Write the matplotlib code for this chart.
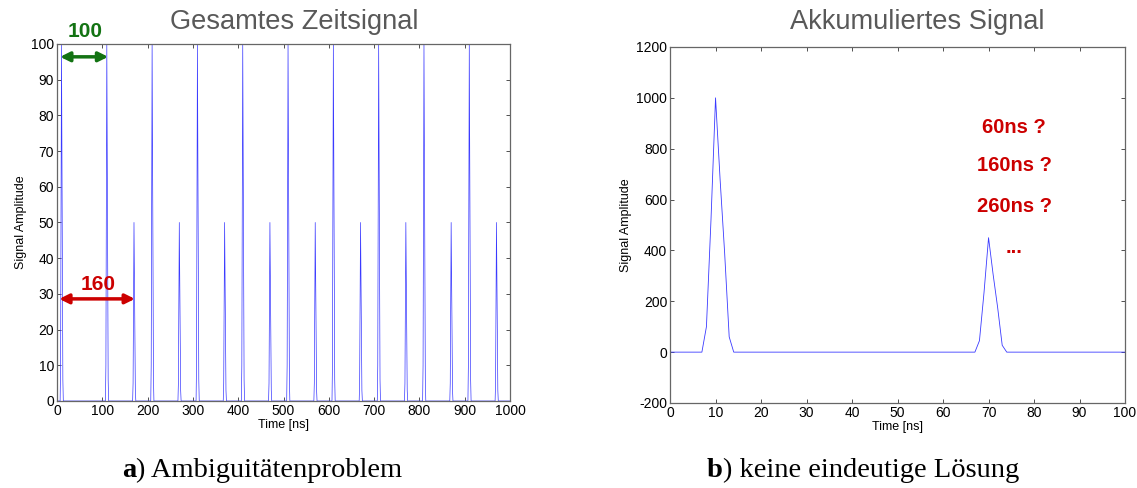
import numpy as np
import matplotlib
matplotlib.use('Agg')
import matplotlib.pyplot as plt

plt.rcParams['font.family'] = ['Liberation Sans', 'DejaVu Sans']
plt.rcParams['axes.unicode_minus'] = False

# pulse shape (sampled at 1 ns, offsets -3..+4 around the peak), peak = 1
pulse_offsets = [-3, -2, -1, 0, 1, 2, 3, 4]
pulse_shape = [0.0, 0.10, 0.52, 1.0, 0.68, 0.39, 0.06, 0.0]

# pulses of the full time signal
times_a = [10, 110, 210, 310, 410, 510, 610, 710, 810, 910]
amp_a = 100
times_b = [170, 270, 370, 470, 570, 670, 770, 870, 970]
amp_b = 50

# accumulated signal
acc_t = [0, 7, 8, 9, 10, 11, 12, 13, 14, 67, 68, 69, 70, 71, 72, 73, 74, 100]
acc_v = [0, 0, 100, 520, 1000, 680, 390, 60, 0, 0, 45, 234, 450, 306, 175, 27, 0, 0]

guesses = ['60ns ?', '160ns ?', '260ns ?', '...']
guess_y = [885, 732, 571, 410]

t = np.arange(0, 1001)
sig = np.zeros(len(t))
for tp in times_a:
    for o, s in zip(pulse_offsets, pulse_shape):
        sig[tp + o] += amp_a * s
for tp in times_b:
    for o, s in zip(pulse_offsets, pulse_shape):
        sig[tp + o] += amp_b * s

fig = plt.figure(figsize=(11.37, 4.88), dpi=100)
ax1 = fig.add_axes([0.0501, 0.1783, 0.3985, 0.7316])
ax2 = fig.add_axes([0.5893, 0.1742, 0.4002, 0.7295])

ax1.plot(t, sig, color='#3a3aff', lw=0.5)
ax2.plot(acc_t, acc_v, color='#3a3aff', lw=0.6)

ax1.set_xlim(0, 1000)
ax1.set_ylim(0, 100)
ax1.set_xticks(range(0, 1001, 100))
ax1.set_yticks(range(0, 101, 10))
ax2.set_xlim(0, 100)
ax2.set_ylim(-200, 1200)
ax2.set_xticks(range(0, 101, 10))
ax2.set_yticks(range(-200, 1201, 200))

for ax in (ax1, ax2):
    ax.tick_params(direction='in', length=3, width=0.6, top=True, right=True,
                   labelsize=10, pad=2, color='#333333')
    for sp in ax.spines.values():
        sp.set_color('#666666')
        sp.set_linewidth(0.9)
    ax.set_xlabel('Time [ns]', fontsize=9, labelpad=1)
    ax.set_ylabel('Signal Amplitude', fontsize=9, labelpad=3)

fig.text(0.2585, 0.955, 'Gesamtes Zeitsignal', ha='center', va='center',
         fontsize=19.6, color='#595959')
fig.text(0.8065, 0.955, 'Akkumuliertes Signal', ha='center', va='center',
         fontsize=19.6, color='#595959')

# arrows on the left chart
green = '#137313'
red = '#cc0000'
ax1.annotate('', xy=(7, 96.4), xytext=(113, 96.4),
             arrowprops=dict(arrowstyle='<|-|>', color=green, lw=2.5,
                             mutation_scale=14, shrinkA=0, shrinkB=0))
ax1.text(62, 103.6, '100', color=green, fontsize=15, fontweight='bold',
         ha='center', va='center', clip_on=False)
ax1.annotate('', xy=(5, 28.6), xytext=(172, 28.6),
             arrowprops=dict(arrowstyle='<|-|>', color=red, lw=2.5,
                             mutation_scale=14, shrinkA=0, shrinkB=0))
ax1.text(90, 32.6, '160', color=red, fontsize=15, fontweight='bold',
         ha='center', va='center')

for s, y in zip(guesses, guess_y):
    ax2.text(75.6, y, s, color=red, fontsize=14.5, fontweight='bold',
             ha='center', va='center')

# captions: bold letter followed by normal text
cap_font = ['Liberation Serif', 'DejaVu Serif']
renderer = fig.canvas.get_renderer()
for letter, rest, x0 in [('a', ') Ambiguitätenproblem', 122),
                         ('b', ') keine eindeutige Lösung', 707)]:
    tl = fig.text(x0 / 1137, 0.035, letter, ha='left', va='center',
                  fontsize=20.5, fontweight='bold', family=cap_font)
    w = tl.get_window_extent(renderer).width
    fig.text((x0 + w) / 1137, 0.035, rest, ha='left', va='center',
             fontsize=20.5, family=cap_font)

fig.savefig('out.png', dpi=100)
